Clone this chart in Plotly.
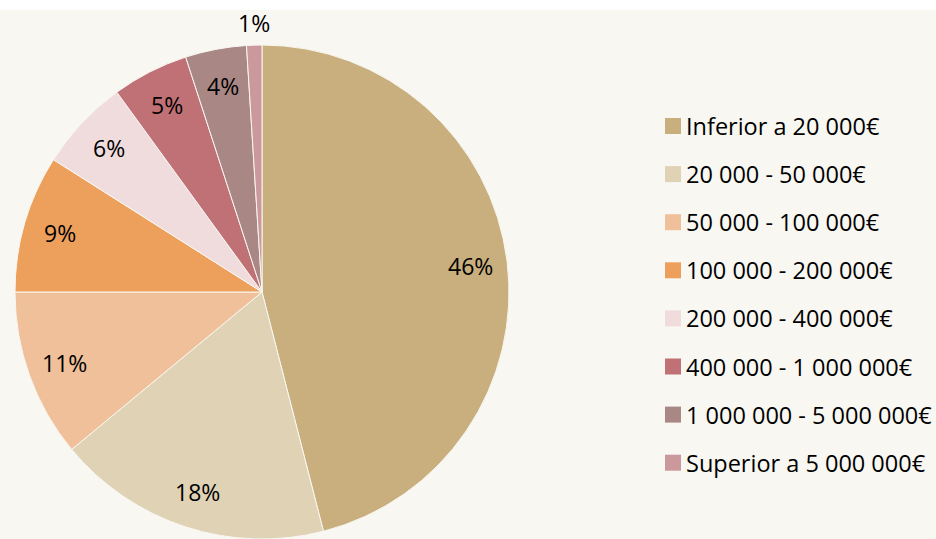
import numpy as np
import plotly.graph_objects as go

categories = ["Inferior a 20 000€", "20 000 - 50 000€", "50 000 - 100 000€",
              "100 000 - 200 000€", "200 000 - 400 000€", "400 000 - 1 000 000€",
              "1 000 000 - 5 000 000€", "Superior a 5 000 000€"]
values = [46, 18, 11, 9, 6, 5, 4, 1]
colors = ["#C9AF7D", "#DFD2B5", "#EFC09A", "#EDA05C", "#F1DCDD", "#C07176", "#A98785", "#CB989B"]

W, H = 936, 539
BG = "#F8F7F2"
FONT = "Open Sans"
FS_LABEL = 23
FS_LEGEND = 23.5

# pie geometry (pixels)
cx, cy, R = 262, 292, 247

fig = go.Figure()
fig.add_trace(go.Pie(
    labels=categories, values=values, sort=False, direction="clockwise", rotation=0,
    marker=dict(colors=colors, line=dict(color=BG, width=1)),
    textinfo="none", hoverinfo="label+percent", showlegend=False,
    domain=dict(x=[(cx - R) / W, (cx + R) / W], y=[(H - cy - R) / H, (H - cy + R) / H]),
))

# data labels at slice mid-angles
vals = np.array(values, dtype=float)
cum = np.cumsum(vals) - vals / 2
ang = cum / vals.sum() * 2 * np.pi
annotations = []
for v, a in zip(values, ang):
    r = R * (1.09 if v < 2 else 0.85)
    px = cx + r * np.sin(a)
    py = cy - r * np.cos(a)
    annotations.append(dict(x=px / W, y=1 - py / H, xref="paper", yref="paper",
                            text=f"{v}%", showarrow=False, xanchor="center", yanchor="middle",
                            font=dict(family=FONT, size=FS_LABEL, color="#000000")))

# legend (manual)
shapes = [dict(type="rect", xref="paper", yref="paper", x0=0, x1=1, y0=1 - 10 / H, y1=1,
               fillcolor="white", line=dict(width=0), layer="below")]
lx, ly0, dy, sq = 665, 126, 48.1, 16
for i, (c, col) in enumerate(zip(categories, colors)):
    y = ly0 + i * dy
    shapes.append(dict(type="rect", xref="paper", yref="paper",
                       x0=lx / W, x1=(lx + sq) / W, y0=1 - (y + sq / 2) / H, y1=1 - (y - sq / 2) / H,
                       fillcolor=col, line=dict(width=0)))
    annotations.append(dict(x=(lx + sq + 3) / W, y=1 - y / H, xref="paper", yref="paper",
                            text=c, showarrow=False, xanchor="left", yanchor="middle",
                            font=dict(family=FONT, size=FS_LEGEND, color="#000000")))

fig.update_layout(width=W, height=H, margin=dict(l=0, r=0, t=0, b=0),
                  paper_bgcolor=BG, plot_bgcolor=BG, showlegend=False,
                  shapes=shapes, annotations=annotations)
fig.write_html("out.html", config={"displayModeBar": False},
               post_script="document.body.style.margin='0';document.body.style.overflow='hidden';")
